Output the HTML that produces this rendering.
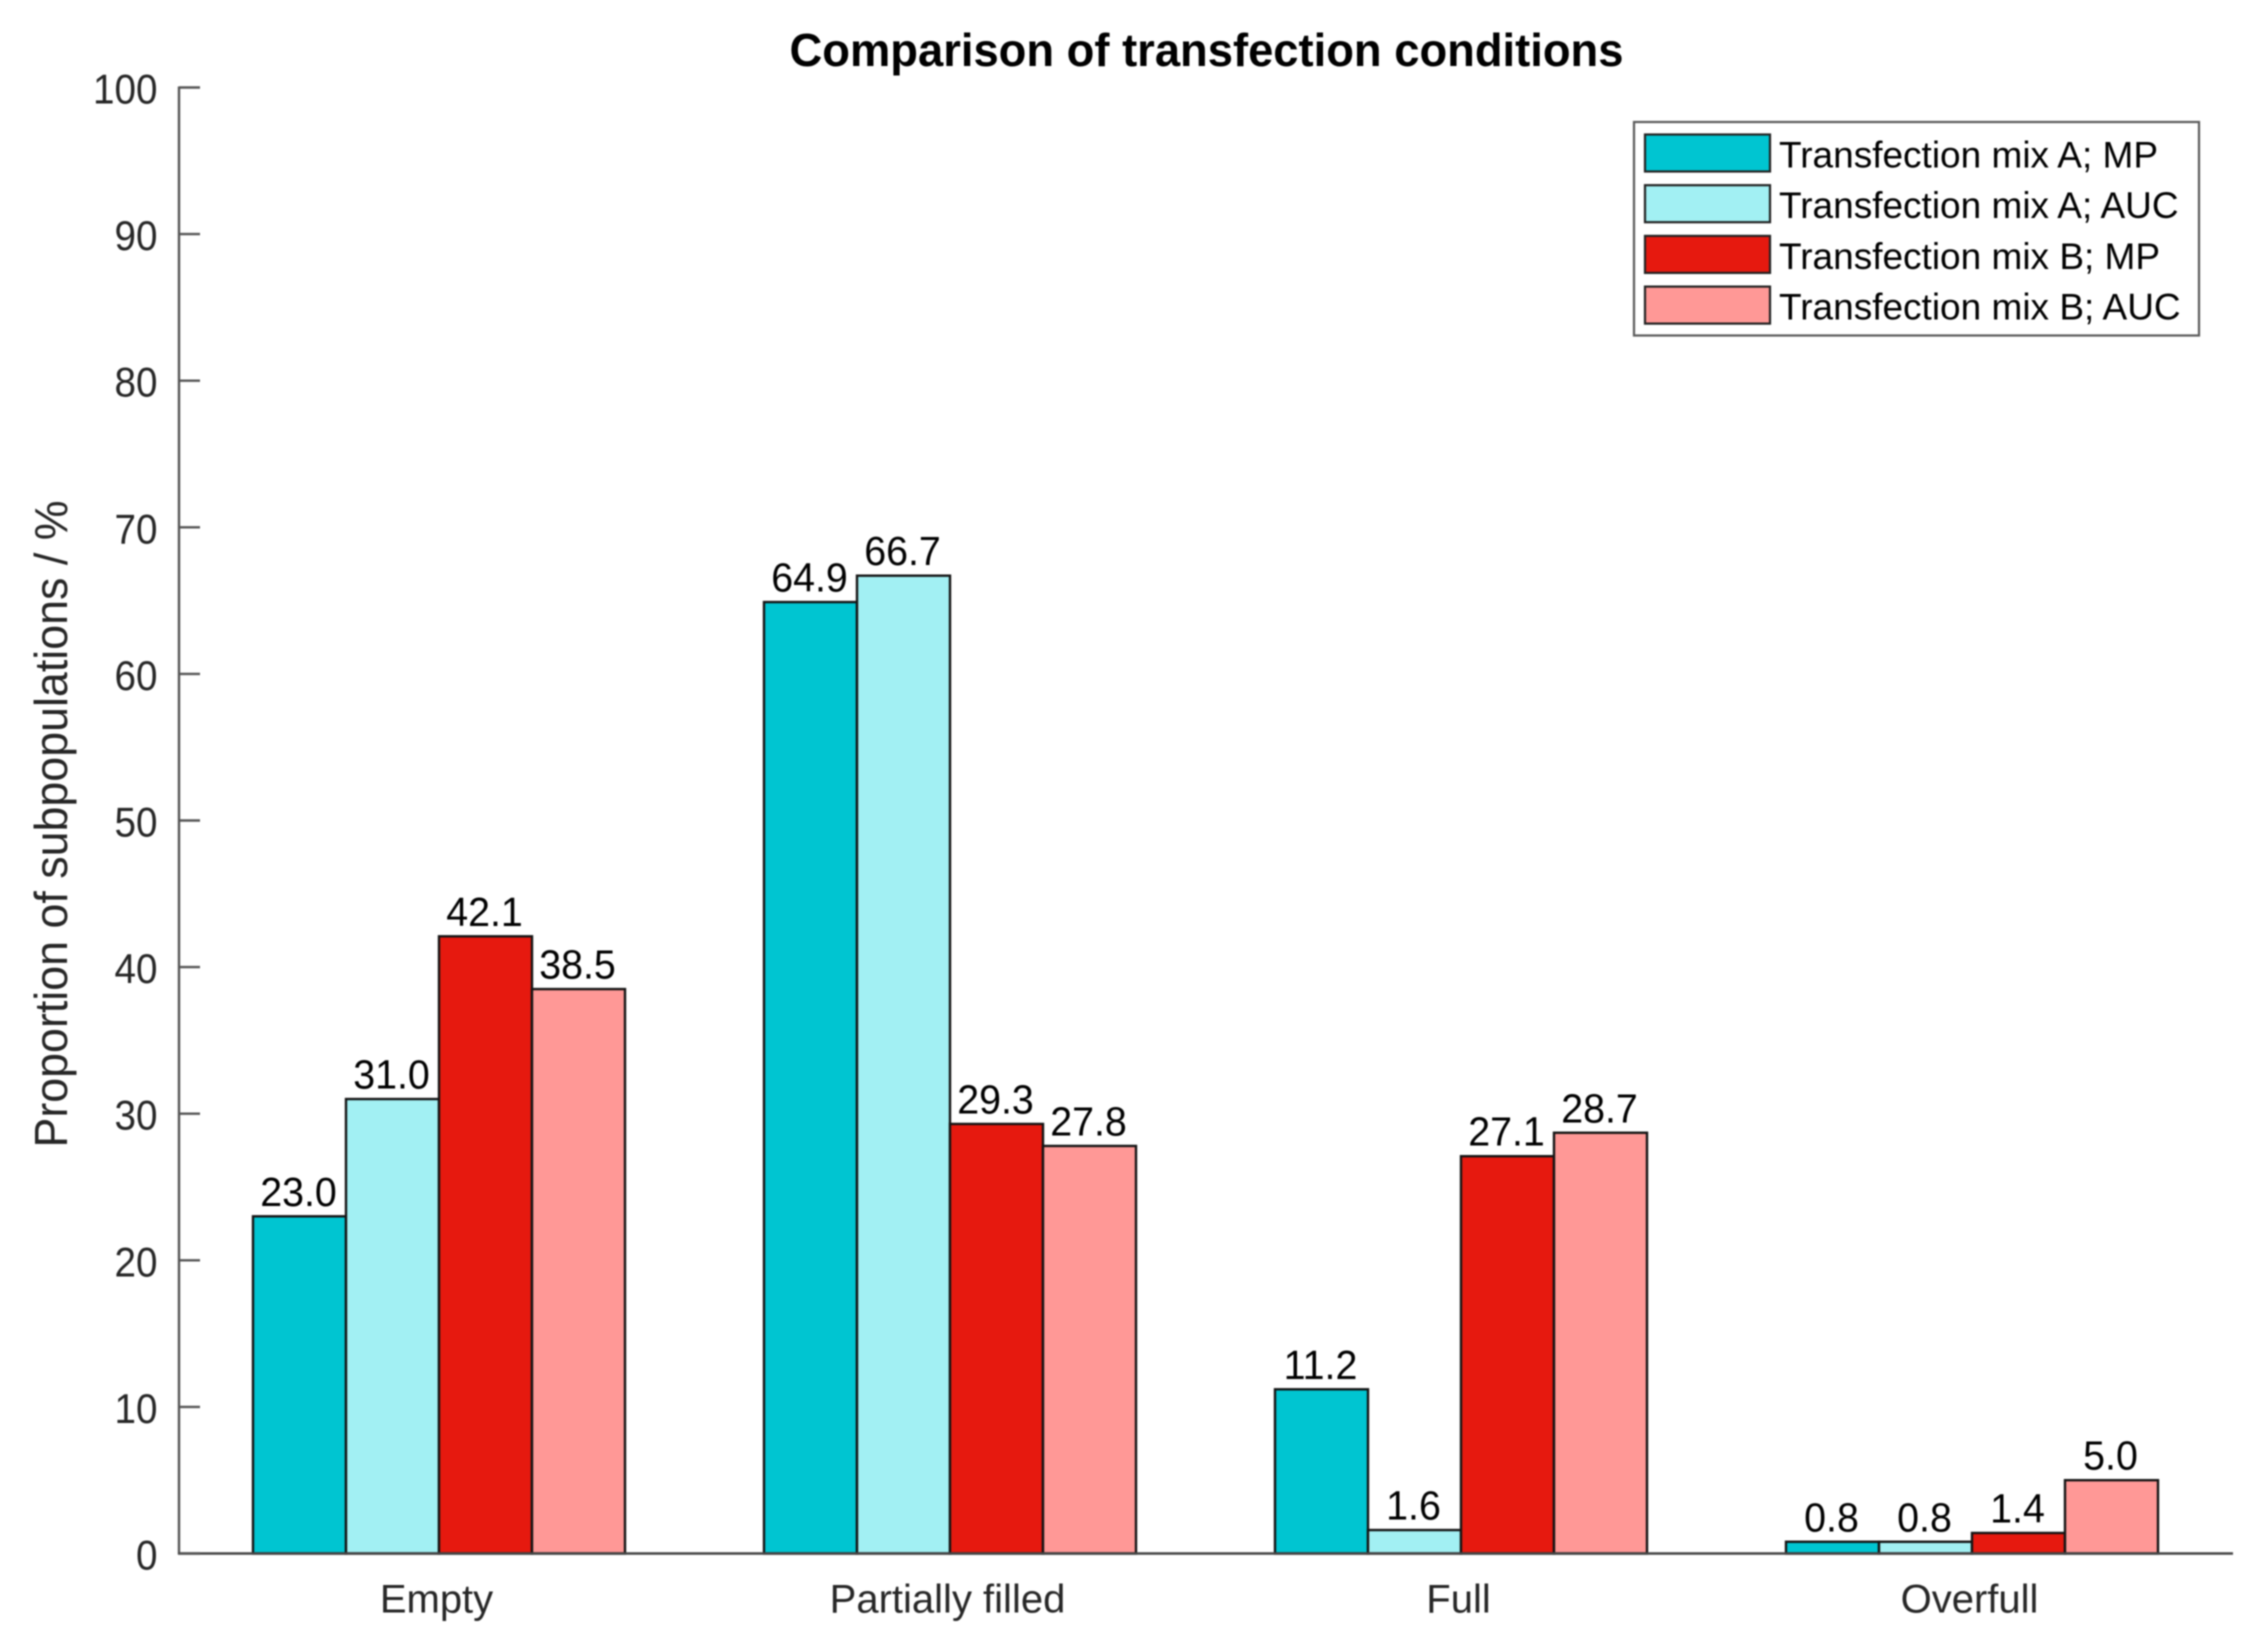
<!DOCTYPE html>
<html lang="en">
<head>
<meta charset="utf-8">
<title>Comparison of transfection conditions</title>
<style>
html,body{margin:0;padding:0;background:#fff;width:2258px;height:1643px;overflow:hidden}
svg{display:block;filter:blur(0.9px)}
text{font-family:"Liberation Sans",Arial,sans-serif}
</style>
</head>
<body>
<svg id="chart" xmlns="http://www.w3.org/2000/svg" width="2258" height="1643" viewBox="0 0 2258 1643">
<rect x="0" y="0" width="2258" height="1643" fill="#ffffff"/>
<text x="1206.5" y="66" text-anchor="middle" font-size="46" font-weight="700" fill="#000000" textLength="834" lengthAdjust="spacingAndGlyphs">Comparison of transfection conditions</text>
<text transform="translate(67,824) rotate(-90)" text-anchor="middle" font-size="46" fill="#262626" textLength="647" lengthAdjust="spacingAndGlyphs">Proportion of subpopulations / %</text>
<g id="bars"></g>
<g id="axes"></g>
<g id="value-labels"></g>
<g id="legend"></g>
</svg>
<script>
const categories = ["Empty", "Partially filled", "Full", "Overfull"];
const mixAMP = [23.0, 64.9, 11.2, 0.8];
const mixAAUC = [31.0, 66.7, 1.6, 0.8];
const mixBMP = [42.1, 29.3, 27.1, 1.4];
const mixBAUC = [38.5, 27.8, 28.7, 5.0];
const seriesNames = ["Transfection mix A; MP", "Transfection mix A; AUC", "Transfection mix B; MP", "Transfection mix B; AUC"];
const yTicks = [0, 10, 20, 30, 40, 50, 60, 70, 80, 90, 100];

const allSeries = [mixAMP, mixAAUC, mixBMP, mixBAUC];
const seriesColors = ["#00c5d1", "#a2f0f3", "#e6190f", "#ff9896"];
const NS = "http://www.w3.org/2000/svg";

const plotLeft = 179, plotRight = 2233, plotTop = 87.5, plotBottom = 1553.5;
const firstCenter = 439, groupStep = 511, barWidth = 93;

function yScale(v) { return plotBottom - (v / 100) * (plotBottom - plotTop); }
function xCenter(i) { return firstCenter + i * groupStep; }
function xBar(i, s) { return xCenter(i) + (s - allSeries.length / 2) * barWidth; }

function make(tag, attrs, parent, text) {
  const el = document.createElementNS(NS, tag);
  for (const k in attrs) el.setAttribute(k, attrs[k]);
  if (text !== undefined) el.textContent = text;
  parent.appendChild(el);
  return el;
}

const barsG = document.getElementById("bars");
const labelsG = document.getElementById("value-labels");
const axesG = document.getElementById("axes");
const legendG = document.getElementById("legend");

allSeries.forEach(function (values, s) {
  values.forEach(function (v, i) {
    const x = xBar(i, s), y = yScale(v);
    const bar = make("rect", {x: x, y: y, width: barWidth, height: plotBottom - y, fill: seriesColors[s], stroke: "#141414", "stroke-width": 2.4}, barsG);
    
    
    const label = make("text", {transform: "translate(" + (x + barWidth / 2 - 1) + "," + (y - 10.5) + ") scale(0.96,1)", "text-anchor": "middle", "font-size": 41, fill: "#000000"}, labelsG, v.toFixed(1));
    
    
  });
});

const yAxisLine = make("line", {x1: plotLeft, y1: plotTop - 1, x2: plotLeft, y2: plotBottom + 1, stroke: "#555555", "stroke-width": 2.4}, axesG);


const xAxisLine = make("line", {x1: plotLeft - 1, y1: plotBottom, x2: plotRight, y2: plotBottom, stroke: "#444444", "stroke-width": 2.6}, axesG);



yTicks.forEach(function (t) {
  const y = yScale(t);
  const tick = make("line", {x1: plotLeft, y1: y, x2: plotLeft + 21, y2: y, stroke: "#555555", "stroke-width": 2.4}, axesG);
  
  
  const tickLabel = make("text", {transform: "translate(157.5," + (y + 16) + ") scale(0.92,1)", "text-anchor": "end", "font-size": 42, fill: "#262626"}, axesG, String(t));
  
  
});

categories.forEach(function (c, i) {
  const catLabel = make("text", {x: xCenter(i) - 2.5, y: 1612.5, "text-anchor": "middle", "font-size": 40, fill: "#262626"}, axesG, c);
  
  
});

const legendBox = make("rect", {x: 1634, y: 122, width: 565, height: 213.5, fill: "#ffffff", stroke: "#5a5a5a", "stroke-width": 2.2}, legendG);



seriesNames.forEach(function (name, s) {
  const top = 134.5 + s * 50.7;
  const swatch = make("rect", {x: 1645, y: top, width: 125, height: 37, fill: seriesColors[s], stroke: "#222222", "stroke-width": 2.2}, legendG);
  
  
  const entry = make("text", {x: 1779, y: top + 33, "font-size": 37, fill: "#000000"}, legendG, name);
  
  
});
</script>
</body>
</html>
